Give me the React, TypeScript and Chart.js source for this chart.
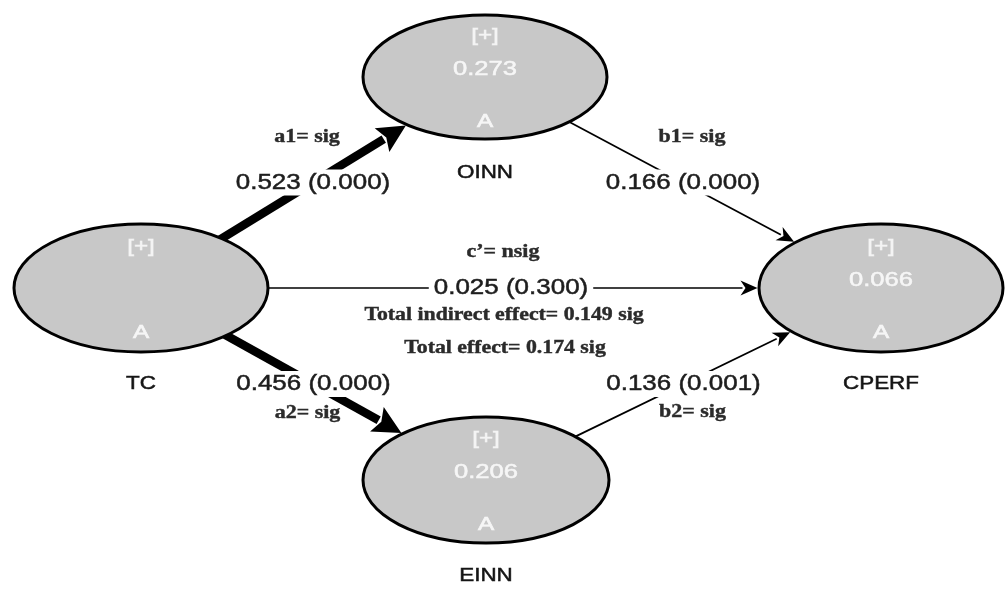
import { useEffect, useRef } from 'react';
import { Chart, registerables } from 'chart.js';

Chart.register(...registerables);

// ---------- data ----------
const constructs = ['TC', 'OINN', 'EINN', 'CPERF'];
const rSquared: (number | null)[] = [null, 0.273, 0.206, 0.066];
const pathFrom = ['TC', 'TC', 'OINN', 'EINN', 'TC'];
const pathTo = ['OINN', 'EINN', 'CPERF', 'CPERF', 'CPERF'];
const pathNames = ['a1', 'a2', 'b1', 'b2', 'c’'];
const pathCoef = [0.523, 0.456, 0.166, 0.136, 0.025];
const pathP = [0.0, 0.0, 0.0, 0.001, 0.3];
const pathSig = ['sig', 'sig', 'sig', 'sig', 'nsig'];
const totalIndirect = 0.149;
const totalIndirectSig = 'sig';
const totalEffect = 0.174;
const totalEffectSig = 'sig';

// ---------- layout (positions / sizes, in scale units) ----------
const NODE_LAYOUT: Record<string, { x: number; y: number; rx: number; ry: number }> = {
  TC: { x: 141, y: 288, rx: 127, ry: 64 },
  OINN: { x: 485, y: 77, rx: 122, ry: 62 },
  EINN: { x: 486, y: 480, rx: 123, ry: 63 },
  CPERF: { x: 881, y: 288, rx: 122, ry: 64 },
};
const SIG_OFFSET: Record<string, [number, number]> = {
  a1: [-6, -45],
  b1: [9, -45],
  a2: [-6, 29],
  b2: [9, 28],
  'c’': [-8, -36],
};
const TOTAL_POS = { indirect: [504, 315], total: [505, 348] };

const SANS = '"Liberation Sans", Arial, Helvetica, sans-serif';
const SERIF = '"Liberation Serif", "Times New Roman", serif';

function drawText(
  ctx: CanvasRenderingContext2D,
  text: string,
  x: number,
  y: number,
  font: string,
  color: string,
  sx: number,
  bg?: string,
  heavy = 0
) {
  ctx.save();
  ctx.font = font;
  ctx.textAlign = 'center';
  ctx.textBaseline = 'middle';
  if (bg) {
    const w = ctx.measureText(text).width * sx;
    ctx.fillStyle = bg;
    ctx.fillRect(x - w / 2 - 5, y - 13, w + 10, 26);
  }
  ctx.translate(x, y);
  ctx.scale(sx, 1);
  ctx.fillStyle = color;
  ctx.fillText(text, 0, 0);
  if (heavy > 0) {
    ctx.strokeStyle = color;
    ctx.lineWidth = heavy;
    ctx.strokeText(text, 0, 0);
  }
  ctx.restore();
}

const diagramPlugin = {
  id: 'pathDiagram',
  afterDatasetsDraw(chart: any) {
    const ctx: CanvasRenderingContext2D = chart.ctx;
    const xs = chart.scales.x;
    const ys = chart.scales.y;
    const meta = chart.getDatasetMeta(0);
    const nodes: Record<string, { x: number; y: number; rx: number; ry: number }> = {};
    constructs.forEach((name, i) => {
      const L = NODE_LAYOUT[name];
      const pt = meta.data[i];
      nodes[name] = {
        x: pt.x,
        y: pt.y,
        rx: Math.abs(xs.getPixelForValue(L.x + L.rx) - xs.getPixelForValue(L.x)),
        ry: Math.abs(ys.getPixelForValue(L.y + L.ry) - ys.getPixelForValue(L.y)),
      };
    });

    const boundary = (n: { rx: number; ry: number }, ux: number, uy: number) =>
      1 / Math.sqrt((ux / n.rx) ** 2 + (uy / n.ry) ** 2);

    // paths
    pathFrom.forEach((from, i) => {
      const a = nodes[from];
      const b = nodes[pathTo[i]];
      const dx = b.x - a.x;
      const dy = b.y - a.y;
      const len = Math.hypot(dx, dy);
      const ux = dx / len;
      const uy = dy / len;
      const thick = pathCoef[i] > 0.3;
      const lw = thick ? 8.5 : 1.7;
      const headLen = thick ? 28 : 17;
      const headHalf = thick ? 14 : 7.5;
      const t0 = boundary(a, ux, uy) - 4;
      const t1 = len - boundary(b, ux, uy) - 1.5;
      const sxp = a.x + ux * t0;
      const syp = a.y + uy * t0;
      const tx = a.x + ux * t1;
      const ty = a.y + uy * t1;
      const bx = tx - ux * headLen;
      const by = ty - uy * headLen;
      ctx.save();
      ctx.strokeStyle = '#000';
      ctx.lineWidth = lw;
      ctx.lineCap = 'butt';
      ctx.beginPath();
      ctx.moveTo(sxp, syp);
      ctx.lineTo(bx + ux * 2, by + uy * 2);
      ctx.stroke();
      ctx.fillStyle = '#000';
      ctx.beginPath();
      ctx.moveTo(tx, ty);
      ctx.lineTo(bx - uy * headHalf, by + ux * headHalf);
      ctx.lineTo(bx + ux * 5, by + uy * 5);
      ctx.lineTo(bx + uy * headHalf, by - ux * headHalf);
      ctx.closePath();
      ctx.fill();
      ctx.restore();

      const mx = (a.x + b.x) / 2;
      const my = (a.y + b.y) / 2;
      drawText(
        ctx,
        `${pathCoef[i].toFixed(3)} (${pathP[i].toFixed(3)})`,
        mx,
        my,
        `22px ${SANS}`,
        '#1e1e1e',
        1.18,
        '#ffffff',
        0.5
      );
      const off = SIG_OFFSET[pathNames[i]];
      drawText(
        ctx,
        `${pathNames[i]}= ${pathSig[i]}`,
        mx + off[0],
        my + off[1],
        `bold 18px ${SERIF}`,
        '#2b2b2b',
        1.22,
        undefined,
        0.4
      );
    });

    // ellipses
    constructs.forEach((name, i) => {
      const n = nodes[name];
      ctx.save();
      ctx.beginPath();
      ctx.ellipse(n.x, n.y, n.rx, n.ry, 0, 0, Math.PI * 2);
      ctx.fillStyle = '#c8c8c8';
      ctx.fill();
      ctx.lineWidth = 3;
      ctx.strokeStyle = '#000';
      ctx.stroke();
      ctx.restore();
      drawText(ctx, '[+]', n.x, n.y - 41, `18px ${SANS}`, '#f4f4f4', 1.35, undefined, 0.5);
      const r2 = rSquared[i];
      if (r2 !== null) drawText(ctx, r2.toFixed(3), n.x, n.y - 8, `20px ${SANS}`, '#f6f6f6', 1.28, undefined, 0.5);
      drawText(ctx, 'A', n.x, n.y + 45, `18px ${SANS}`, '#f6f6f6', 1.35, undefined, 0.6);
      drawText(ctx, name, n.x, n.y + 96, `19px ${SANS}`, '#151515', 1.18, undefined, 0.5);
    });

    drawText(
      ctx,
      `Total indirect effect= ${totalIndirect.toFixed(3)} ${totalIndirectSig}`,
      xs.getPixelForValue(TOTAL_POS.indirect[0]),
      ys.getPixelForValue(TOTAL_POS.indirect[1]),
      `bold 18px ${SERIF}`,
      '#2b2b2b',
      1.21,
      undefined,
      0.4
    );
    drawText(
      ctx,
      `Total effect= ${totalEffect.toFixed(3)} ${totalEffectSig}`,
      xs.getPixelForValue(TOTAL_POS.total[0]),
      ys.getPixelForValue(TOTAL_POS.total[1]),
      `bold 18px ${SERIF}`,
      '#2b2b2b',
      1.21,
      undefined,
      0.4
    );
  },
};

export default function App() {
  const ref = useRef<HTMLCanvasElement>(null);
  useEffect(() => {
    if (!ref.current) return;
    const chart = new Chart(ref.current, {
      type: 'scatter',
      data: {
        datasets: [
          {
            label: 'constructs',
            data: constructs.map((n) => ({ x: NODE_LAYOUT[n].x, y: NODE_LAYOUT[n].y })),
            pointRadius: 0,
            pointHoverRadius: 0,
          },
        ],
      },
      options: {
        animation: false,
        responsive: true,
        maintainAspectRatio: false,
        layout: { padding: 0 },
        events: [],
        plugins: { legend: { display: false }, tooltip: { enabled: false } },
        scales: {
          x: { type: 'linear', min: 0, max: 1008, display: false },
          y: { type: 'linear', min: 0, max: 589, reverse: true, display: false },
        },
      },
      plugins: [diagramPlugin],
    });
    return () => chart.destroy();
  }, []);
  return (
    <div style={{ position: 'fixed', left: 0, top: 0, width: 1008, height: 589, background: '#ffffff' }}>
      <canvas ref={ref} />
    </div>
  );
}
